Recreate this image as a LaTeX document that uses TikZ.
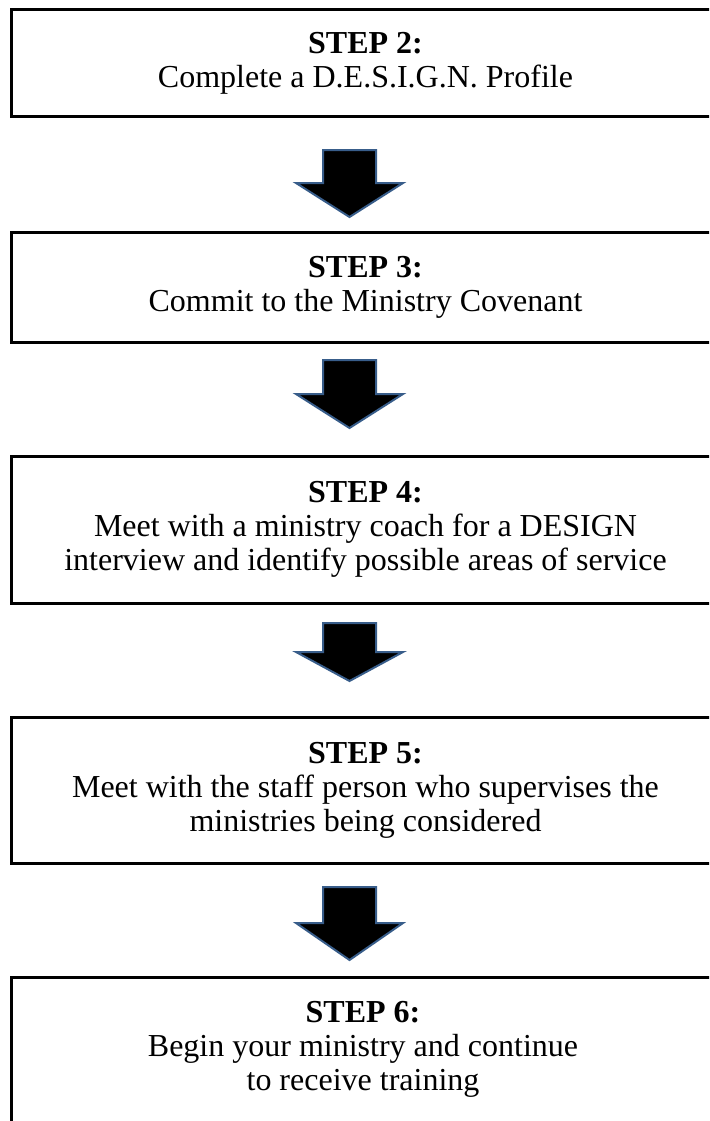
\documentclass[tikz,border=0pt]{standalone}
\usepackage{fontspec}
\setmainfont{Liberation Serif}
\definecolor{arrowblue}{HTML}{385D8A}
\newcommand{\blockarrow}[3]{% #1 top y, #2 head base y, #3 tip y
  \draw[barrow] (323,#1) -- (376,#1) -- (376,#2) -- (403,#2) -- (349.5,#3)
    -- (296,#2) -- (323,#2) -- cycle;}
\begin{document}
\begin{tikzpicture}[x=1pt,y=-1pt,
  stepfont/.style={font=\fontsize{32}{34}\selectfont},
  stepbox/.style={draw=black, line width=3pt, rectangle, minimum width=709pt,
    align=center, inner sep=0pt, stepfont},
  barrow/.style={fill=black, draw=arrowblue, line width=2pt, line join=miter}]
\useasboundingbox (0,0) rectangle (709,1121);
\clip (0,0) rectangle (709,1121);

\node[stepbox, minimum height=107pt] (b1) at (365.5,63.5)
  {\textbf{STEP 2:}\\Complete a D.E.S.I.G.N. Profile};
\node[stepbox, minimum height=110pt] (b2) at (365.5,287)
  {\textbf{STEP 3:}\\Commit to the Ministry Covenant};
\node[stepbox, minimum height=147pt] (b3) at (365.5,529.5)
  {\textbf{STEP 4:}\\Meet with a ministry coach for a DESIGN\\interview and identify possible areas of service};
\node[stepbox, minimum height=146pt] (b4) at (365.5,790)
  {\textbf{STEP 5:}\\Meet with the staff person who supervises the\\ministries being considered};
\node[stepbox, minimum height=180pt] (b5) at (365.5,1067) {};
\node[stepfont, align=center, inner sep=0pt] (t5) at (363,1049)
  {\textbf{STEP 6:}\\Begin your ministry and continue\\to receive training};

\blockarrow{150}{183}{217}
\blockarrow{360}{394}{428}
\blockarrow{623}{652}{681}
\blockarrow{887}{923}{960}
\end{tikzpicture}
\end{document}
